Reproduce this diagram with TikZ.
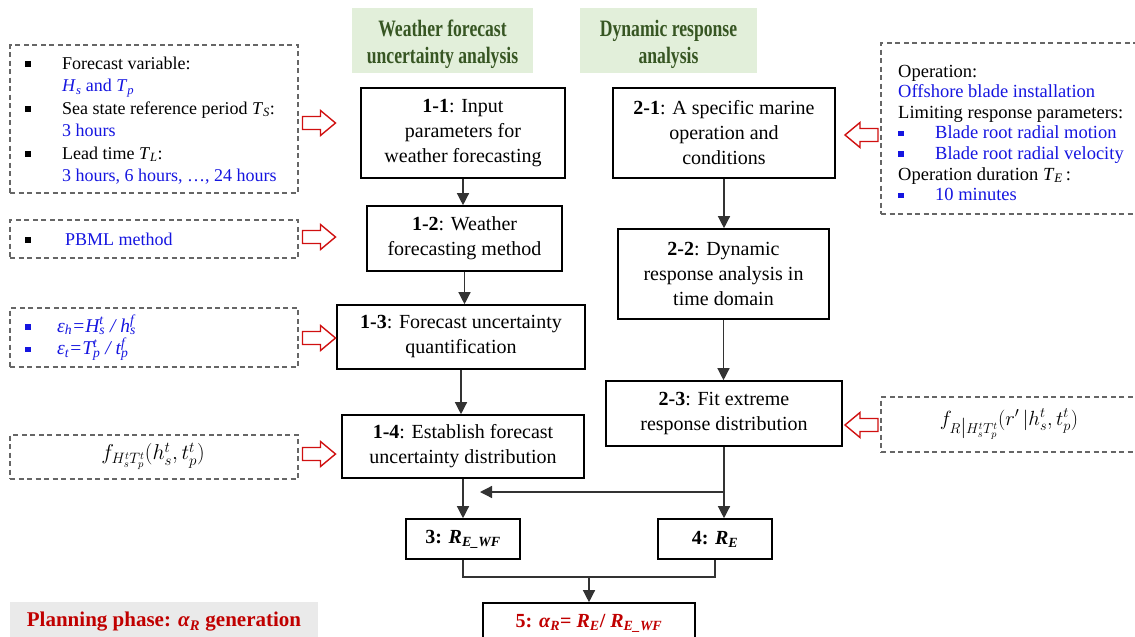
\documentclass[tikz,border=0pt]{standalone}
\usepackage{fix-cm}
\usepackage{fontspec}
\setmainfont{Liberation Serif}
\newfontfamily\hdfont[FakeStretch=0.75]{Liberation Serif}
\usetikzlibrary{arrows.meta}
\definecolor{hdgreen}{HTML}{375623}
\definecolor{hdfill}{HTML}{E2EFDA}
\definecolor{tblue}{HTML}{1515E0}
\definecolor{tred}{HTML}{C00000}
\definecolor{dgray}{HTML}{666666}
\definecolor{pfill}{HTML}{EAEAEA}
\definecolor{arrred}{HTML}{D01010}
\newcommand\sqb{\rule[2.5pt]{5.5pt}{5.5pt}}
\newcommand\subsup[3]{#1\rlap{\textsuperscript{#3}}\textsubscript{#2}}
\tikzset{
  box/.style={draw=black, line width=1.6pt, fill=white, inner sep=0pt, align=center, font=\fontsize{20}{25}\selectfont},
  dbox/.style={draw=dgray, dash pattern=on 5pt off 3.5pt, line width=1.5pt, inner sep=0pt},
  hd/.style={fill=hdfill, inner sep=0pt},
  hdtext/.style={inner sep=0pt, align=center, text=hdgreen, font=\hdfont\bfseries\fontsize{23.5}{27}\selectfont},
  conn/.style={draw=black!80, line width=1.3pt},
  arr/.style={conn, -{Triangle[length=12pt,width=12pt]}},
  harr/.style={draw=arrred, fill=white, line width=1.4pt, line join=miter},
  lt/.style={anchor=base west, inner sep=0pt, align=left},
}
% hollow block arrow pointing right, centred at the current scope origin
\newcommand\hollowarrow{%
  \path[harr] (-16.5,-6.5) -- (1.5,-6.5) -- (1.5,-12.5) -- (16.5,0) -- (1.5,12.5) -- (1.5,6.5) -- (-16.5,6.5) -- cycle;}
\begin{document}
\begin{tikzpicture}[x=1pt,y=-1pt]
\useasboundingbox (0,0) rectangle (1135,637);
\clip (0,0) rectangle (1135,637);

% headers
\node[hd, minimum width=181pt, minimum height=65pt] (h1) at (442.5,40.5) {};
\node[hdtext] (h1t) at ([yshift=-4pt]h1.center) {Weather forecast\\uncertainty analysis};
\node[hd, minimum width=177pt, minimum height=65pt] (h2) at (668.5,40.5) {};
\node[hdtext] (h2t) at ([yshift=-4pt]h2.center) {Dynamic response\\analysis};

% main boxes
\node[box, minimum width=204pt, minimum height=90pt] (b11) at (463,133) {\textbf{1-1}: Input\\parameters for\\weather forecasting};
\node[box, minimum width=195pt, minimum height=65pt] (b12) at (464.5,238.5) {\textbf{1-2}: Weather\\forecasting method};
\node[box, minimum width=248pt, minimum height=64pt] (b13) at (461,337) {\textbf{1-3}: Forecast uncertainty\\quantification};
\node[box, minimum width=242pt, minimum height=63pt] (b14) at (463,446.5) {\textbf{1-4}: Establish forecast\\uncertainty distribution};
\node[box, minimum width=222pt, minimum height=90pt] (b21) at (724,133) {\textbf{2-1}: A specific marine\\operation and\\conditions};
\node[box, minimum width=211pt, minimum height=90pt] (b22) at (723.5,274) {\textbf{2-2}: Dynamic\\response analysis in\\time domain};
\node[box, minimum width=236pt, minimum height=65pt] (b23) at (724,413.5) {\textbf{2-3}: Fit extreme\\response distribution};
\node[box, minimum width=114pt, minimum height=40pt] (b3) at (463,539) {\textbf{3: \textit{R}\textsubscript{\textit{E\_WF}}}};
\node[box, minimum width=114pt, minimum height=40pt] (b4) at (715,539) {\textbf{4: \textit{R}\textsubscript{\textit{E}}}};
\node[box, minimum width=212pt, minimum height=40pt, text=tred] (b5) at (589,623) {\textbf{5: \textit{α}\textsubscript{\textit{R}}= \textit{R}\textsubscript{\textit{E}}/ \textit{R}\textsubscript{\textit{E\_WF}}}};

% planning label
\node[fill=pfill, minimum width=308pt, minimum height=40pt, inner sep=0pt, text=tred, font=\bfseries\fontsize{21}{25}\selectfont] (pl) at (164,622) {Planning phase: \textit{α}\textsubscript{\textit{R}} generation};

% left dashed boxes
\node[dbox, minimum width=288pt, minimum height=148pt] (l1) at (154,119) {};
\node[dbox, minimum width=288pt, minimum height=38pt] (l2) at (154,239) {};
\node[dbox, minimum width=288pt, minimum height=59pt] (l3) at (154,337.5) {};
\node[dbox, minimum width=288pt, minimum height=44pt] (l4) at (154,457) {};

\node[lt, font=\fontsize{18}{22.5}\selectfont] (l1t) at (25,69) {\begin{tabular}[t]{@{}p{37pt}@{}l@{}}
\sqb & Forecast variable:\\
 & \textcolor{tblue}{\textit{H}\textsubscript{\textit{s}} and \textit{T}\textsubscript{\textit{p}}}\\
\sqb & Sea state reference period \textit{T}\textsubscript{\textit{S}}:\\
 & \textcolor{tblue}{3 hours}\\
\sqb & Lead time \textit{T}\textsubscript{\textit{L}}:\\
 & \textcolor{tblue}{3 hours, 6 hours, …, 24 hours}
\end{tabular}};
\node[lt, font=\fontsize{18}{22.5}\selectfont] (l2t) at (25,245) {\begin{tabular}[t]{@{}p{40pt}@{}l@{}}
\sqb & \textcolor{tblue}{PBML method}
\end{tabular}};
\node[lt, font=\fontsize{19.5}{21}\selectfont, text=tblue] (l3t) at (25,332) {\begin{tabular}[t]{@{}p{32pt}@{}l@{}}
\sqb & \textit{ε\textsubscript{h}=\subsup{H}{s}{t} / \subsup{h}{s}{f}}\\
\sqb & \textit{ε\textsubscript{t}=\subsup{T}{p}{t} / \subsup{t}{p}{f}}
\end{tabular}};
\node[inner sep=0pt, font=\fontsize{21.5}{25}\selectfont] (l4t) at (153,456) {$f_{H_s^tT_p^t}(h_s^t,t_p^t)$};

% right dashed boxes
\node[dbox, minimum width=264pt, minimum height=171pt] (r1) at (1013,128.5) {};
\node[dbox, minimum width=264pt, minimum height=55pt] (r2) at (1013,424.5) {};
\node[lt, font=\fontsize{18.5}{20.6}\selectfont] (r1t) at (898,77) {\begin{tabular}[t]{@{}p{37pt}@{}l@{}}
\multicolumn{2}{@{}l@{}}{Operation:}\\
\multicolumn{2}{@{}l@{}}{\textcolor{tblue}{Offshore blade installation}}\\
\multicolumn{2}{@{}l@{}}{Limiting response parameters:}\\
\textcolor{tblue}{\sqb} & \textcolor{tblue}{Blade root radial motion}\\
\textcolor{tblue}{\sqb} & \textcolor{tblue}{Blade root radial velocity}\\
\multicolumn{2}{@{}l@{}}{Operation duration \textit{T}\textsubscript{\textit{E}}\,:}\\
\textcolor{tblue}{\sqb} & \textcolor{tblue}{10 minutes}
\end{tabular}};
\node[inner sep=0pt, font=\fontsize{20.5}{24}\selectfont] (r2t) at (1009,424) {$f_{R\big|H_s^tT_p^t}(r'\,\big|h_s^t,t_p^t)$};

% red hollow arrows
\begin{scope}[shift={(319,123)}]\hollowarrow\end{scope}
\begin{scope}[shift={(319,237)}]\hollowarrow\end{scope}
\begin{scope}[shift={(319,338)}]\hollowarrow\end{scope}
\begin{scope}[shift={(319,454)}]\hollowarrow\end{scope}
\begin{scope}[shift={(861.5,135)}, xscale=-1]\hollowarrow\end{scope}
\begin{scope}[shift={(861.5,425)}, xscale=-1]\hollowarrow\end{scope}

% connectors
\draw[arr] (b11.south) -- (b11.south |- b12.north);
\draw[arr] (b12.south) -- (b12.south |- b13.north);
\draw[arr] (b13.south) -- (b13.south |- b14.north);
\draw[arr] (b21.south) -- (b21.south |- b22.north);
\draw[arr] (b22.south) -- (b22.south |- b23.north);
\draw[arr] (b23.south) -- (b23.south |- b4.north);
\draw[arr] (b14.south) -- (b14.south |- b3.north);
\coordinate (j1) at (b23.south |- 0,492);
\coordinate (j2) at (480,492);
\draw[arr] (j1) -- (j2);
\coordinate (j3) at (b5.north |- 0,577);
\draw[conn] (b3.south) -- (b3.south |- j3) -| (b4.south);
\draw[arr] (j3) -- (b5.north);
\end{tikzpicture}
\end{document}
